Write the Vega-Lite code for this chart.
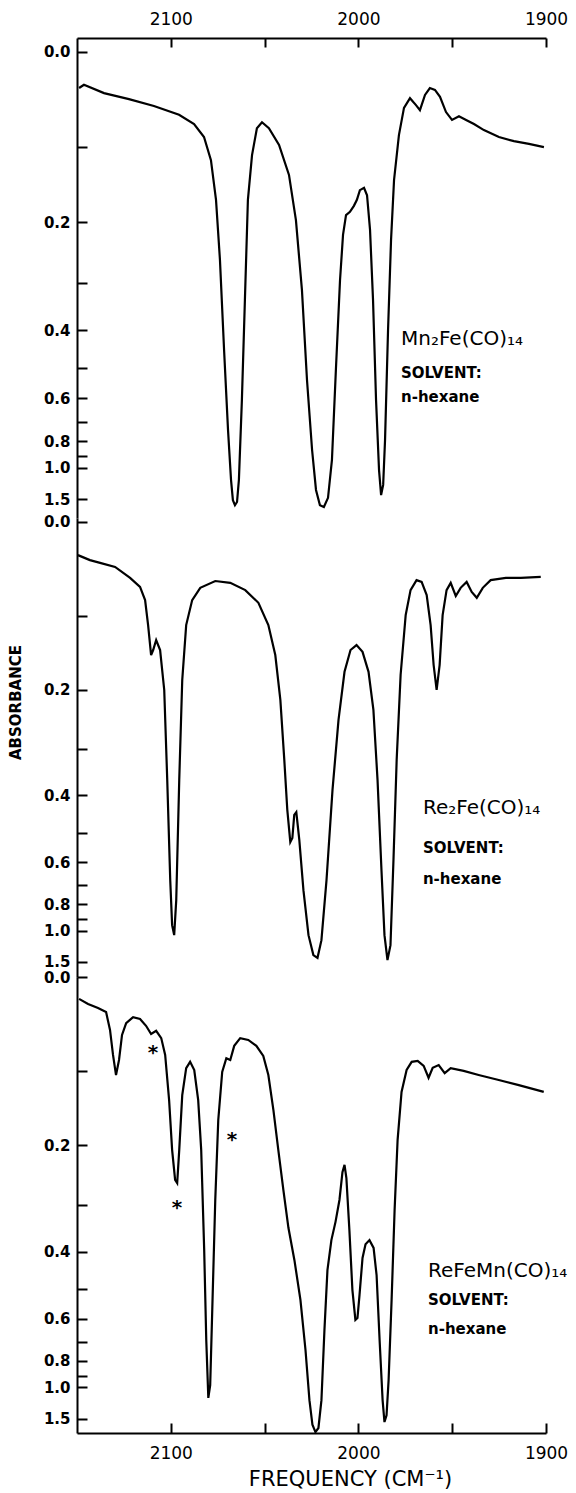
{
  "$schema": "https://vega.github.io/schema/vega-lite/v6.json",
  "background": "white",
  "padding": {"left": 8, "top": 10, "right": 5, "bottom": 5},
  "spacing": 0,
  "bounds": "flush",
  "config": {
    "view": {"stroke": null},
    "font": "DejaVu Sans",
    "axis": {"domainColor": "black", "domainWidth": 2, "tickColor": "black", "tickWidth": 2, "labelColor": "black", "titleColor": "black", "grid": false, "labelFont": "DejaVu Sans", "titleFont": "DejaVu Sans", "labelOverlap": false}
  },
  "datasets": {
    "spectra": [
      {"compound":"Mn2Fe(CO)14","nu":2148.9,"T":0.922},{"compound":"Mn2Fe(CO)14","nu":2146.3,"T":0.929},{"compound":"Mn2Fe(CO)14","nu":2135.6,"T":0.911},{"compound":"Mn2Fe(CO)14","nu":2122.3,"T":0.898},{"compound":"Mn2Fe(CO)14","nu":2109.0,"T":0.883},{"compound":"Mn2Fe(CO)14","nu":2095.6,"T":0.864},{"compound":"Mn2Fe(CO)14","nu":2087.6,"T":0.844},{"compound":"Mn2Fe(CO)14","nu":2082.3,"T":0.816},{"compound":"Mn2Fe(CO)14","nu":2078.6,"T":0.766},{"compound":"Mn2Fe(CO)14","nu":2075.9,"T":0.680},{"compound":"Mn2Fe(CO)14","nu":2073.8,"T":0.550},{"compound":"Mn2Fe(CO)14","nu":2071.6,"T":0.355},{"compound":"Mn2Fe(CO)14","nu":2069.5,"T":0.182},{"compound":"Mn2Fe(CO)14","nu":2067.9,"T":0.074},{"compound":"Mn2Fe(CO)14","nu":2066.9,"T":0.030},{"compound":"Mn2Fe(CO)14","nu":2065.8,"T":0.019},{"compound":"Mn2Fe(CO)14","nu":2064.7,"T":0.026},{"compound":"Mn2Fe(CO)14","nu":2063.7,"T":0.074},{"compound":"Mn2Fe(CO)14","nu":2062.1,"T":0.247},{"compound":"Mn2Fe(CO)14","nu":2060.5,"T":0.463},{"compound":"Mn2Fe(CO)14","nu":2058.9,"T":0.680},{"compound":"Mn2Fe(CO)14","nu":2056.7,"T":0.777},{"compound":"Mn2Fe(CO)14","nu":2054.1,"T":0.835},{"compound":"Mn2Fe(CO)14","nu":2051.4,"T":0.848},{"compound":"Mn2Fe(CO)14","nu":2047.7,"T":0.835},{"compound":"Mn2Fe(CO)14","nu":2042.3,"T":0.799},{"compound":"Mn2Fe(CO)14","nu":2037.0,"T":0.734},{"compound":"Mn2Fe(CO)14","nu":2033.3,"T":0.636},{"compound":"Mn2Fe(CO)14","nu":2030.1,"T":0.485},{"compound":"Mn2Fe(CO)14","nu":2027.4,"T":0.290},{"compound":"Mn2Fe(CO)14","nu":2024.7,"T":0.139},{"compound":"Mn2Fe(CO)14","nu":2022.6,"T":0.052},{"compound":"Mn2Fe(CO)14","nu":2020.5,"T":0.019},{"compound":"Mn2Fe(CO)14","nu":2018.4,"T":0.015},{"compound":"Mn2Fe(CO)14","nu":2016.2,"T":0.035},{"compound":"Mn2Fe(CO)14","nu":2014.1,"T":0.117},{"compound":"Mn2Fe(CO)14","nu":2012.0,"T":0.312},{"compound":"Mn2Fe(CO)14","nu":2009.8,"T":0.506},{"compound":"Mn2Fe(CO)14","nu":2008.2,"T":0.604},{"compound":"Mn2Fe(CO)14","nu":2006.6,"T":0.647},{"compound":"Mn2Fe(CO)14","nu":2004.5,"T":0.654},{"compound":"Mn2Fe(CO)14","nu":2002.4,"T":0.667},{"compound":"Mn2Fe(CO)14","nu":2000.8,"T":0.680},{"compound":"Mn2Fe(CO)14","nu":1999.2,"T":0.701},{"compound":"Mn2Fe(CO)14","nu":1997.0,"T":0.706},{"compound":"Mn2Fe(CO)14","nu":1995.4,"T":0.690},{"compound":"Mn2Fe(CO)14","nu":1993.8,"T":0.615},{"compound":"Mn2Fe(CO)14","nu":1992.2,"T":0.463},{"compound":"Mn2Fe(CO)14","nu":1990.6,"T":0.247},{"compound":"Mn2Fe(CO)14","nu":1989.0,"T":0.095},{"compound":"Mn2Fe(CO)14","nu":1987.9,"T":0.041},{"compound":"Mn2Fe(CO)14","nu":1986.8,"T":0.063},{"compound":"Mn2Fe(CO)14","nu":1985.8,"T":0.160},{"compound":"Mn2Fe(CO)14","nu":1984.2,"T":0.398},{"compound":"Mn2Fe(CO)14","nu":1982.6,"T":0.593},{"compound":"Mn2Fe(CO)14","nu":1981.0,"T":0.723},{"compound":"Mn2Fe(CO)14","nu":1978.4,"T":0.820},{"compound":"Mn2Fe(CO)14","nu":1975.7,"T":0.879},{"compound":"Mn2Fe(CO)14","nu":1972.5,"T":0.900},{"compound":"Mn2Fe(CO)14","nu":1969.3,"T":0.885},{"compound":"Mn2Fe(CO)14","nu":1967.2,"T":0.874},{"compound":"Mn2Fe(CO)14","nu":1964.5,"T":0.907},{"compound":"Mn2Fe(CO)14","nu":1961.9,"T":0.922},{"compound":"Mn2Fe(CO)14","nu":1959.2,"T":0.918},{"compound":"Mn2Fe(CO)14","nu":1956.5,"T":0.903},{"compound":"Mn2Fe(CO)14","nu":1953.3,"T":0.870},{"compound":"Mn2Fe(CO)14","nu":1950.1,"T":0.853},{"compound":"Mn2Fe(CO)14","nu":1946.4,"T":0.861},{"compound":"Mn2Fe(CO)14","nu":1942.6,"T":0.853},{"compound":"Mn2Fe(CO)14","nu":1938.4,"T":0.844},{"compound":"Mn2Fe(CO)14","nu":1933.1,"T":0.831},{"compound":"Mn2Fe(CO)14","nu":1925.1,"T":0.816},{"compound":"Mn2Fe(CO)14","nu":1917.1,"T":0.807},{"compound":"Mn2Fe(CO)14","nu":1909.1,"T":0.801},{"compound":"Mn2Fe(CO)14","nu":1901.1,"T":0.794},
      {"compound":"Re2Fe(CO)14","nu":2149.5,"T":0.927},{"compound":"Re2Fe(CO)14","nu":2143.1,"T":0.916},{"compound":"Re2Fe(CO)14","nu":2137.7,"T":0.910},{"compound":"Re2Fe(CO)14","nu":2129.7,"T":0.901},{"compound":"Re2Fe(CO)14","nu":2121.7,"T":0.877},{"compound":"Re2Fe(CO)14","nu":2116.4,"T":0.857},{"compound":"Re2Fe(CO)14","nu":2113.7,"T":0.828},{"compound":"Re2Fe(CO)14","nu":2112.1,"T":0.773},{"compound":"Re2Fe(CO)14","nu":2110.5,"T":0.707},{"compound":"Re2Fe(CO)14","nu":2109.4,"T":0.718},{"compound":"Re2Fe(CO)14","nu":2107.8,"T":0.740},{"compound":"Re2Fe(CO)14","nu":2105.7,"T":0.718},{"compound":"Re2Fe(CO)14","nu":2103.5,"T":0.630},{"compound":"Re2Fe(CO)14","nu":2101.9,"T":0.432},{"compound":"Re2Fe(CO)14","nu":2100.3,"T":0.211},{"compound":"Re2Fe(CO)14","nu":2099.3,"T":0.112},{"compound":"Re2Fe(CO)14","nu":2098.2,"T":0.090},{"compound":"Re2Fe(CO)14","nu":2097.1,"T":0.167},{"compound":"Re2Fe(CO)14","nu":2095.5,"T":0.432},{"compound":"Re2Fe(CO)14","nu":2093.9,"T":0.652},{"compound":"Re2Fe(CO)14","nu":2091.8,"T":0.773},{"compound":"Re2Fe(CO)14","nu":2088.6,"T":0.828},{"compound":"Re2Fe(CO)14","nu":2084.3,"T":0.855},{"compound":"Re2Fe(CO)14","nu":2076.3,"T":0.870},{"compound":"Re2Fe(CO)14","nu":2068.3,"T":0.866},{"compound":"Re2Fe(CO)14","nu":2060.3,"T":0.850},{"compound":"Re2Fe(CO)14","nu":2053.3,"T":0.822},{"compound":"Re2Fe(CO)14","nu":2048.0,"T":0.773},{"compound":"Re2Fe(CO)14","nu":2044.3,"T":0.707},{"compound":"Re2Fe(CO)14","nu":2041.6,"T":0.608},{"compound":"Re2Fe(CO)14","nu":2039.5,"T":0.476},{"compound":"Re2Fe(CO)14","nu":2037.9,"T":0.366},{"compound":"Re2Fe(CO)14","nu":2036.3,"T":0.295},{"compound":"Re2Fe(CO)14","nu":2035.2,"T":0.304},{"compound":"Re2Fe(CO)14","nu":2034.2,"T":0.355},{"compound":"Re2Fe(CO)14","nu":2033.1,"T":0.361},{"compound":"Re2Fe(CO)14","nu":2031.5,"T":0.300},{"compound":"Re2Fe(CO)14","nu":2029.3,"T":0.189},{"compound":"Re2Fe(CO)14","nu":2026.6,"T":0.090},{"compound":"Re2Fe(CO)14","nu":2024.0,"T":0.046},{"compound":"Re2Fe(CO)14","nu":2021.8,"T":0.040},{"compound":"Re2Fe(CO)14","nu":2019.7,"T":0.079},{"compound":"Re2Fe(CO)14","nu":2017.0,"T":0.211},{"compound":"Re2Fe(CO)14","nu":2013.8,"T":0.410},{"compound":"Re2Fe(CO)14","nu":2010.6,"T":0.564},{"compound":"Re2Fe(CO)14","nu":2007.4,"T":0.670},{"compound":"Re2Fe(CO)14","nu":2004.2,"T":0.718},{"compound":"Re2Fe(CO)14","nu":2001.0,"T":0.729},{"compound":"Re2Fe(CO)14","nu":1997.8,"T":0.714},{"compound":"Re2Fe(CO)14","nu":1994.6,"T":0.670},{"compound":"Re2Fe(CO)14","nu":1992.0,"T":0.586},{"compound":"Re2Fe(CO)14","nu":1989.8,"T":0.432},{"compound":"Re2Fe(CO)14","nu":1987.7,"T":0.233},{"compound":"Re2Fe(CO)14","nu":1986.1,"T":0.090},{"compound":"Re2Fe(CO)14","nu":1984.5,"T":0.035},{"compound":"Re2Fe(CO)14","nu":1982.9,"T":0.068},{"compound":"Re2Fe(CO)14","nu":1981.3,"T":0.256},{"compound":"Re2Fe(CO)14","nu":1979.6,"T":0.476},{"compound":"Re2Fe(CO)14","nu":1977.5,"T":0.663},{"compound":"Re2Fe(CO)14","nu":1974.8,"T":0.795},{"compound":"Re2Fe(CO)14","nu":1972.2,"T":0.850},{"compound":"Re2Fe(CO)14","nu":1969.0,"T":0.872},{"compound":"Re2Fe(CO)14","nu":1966.3,"T":0.868},{"compound":"Re2Fe(CO)14","nu":1963.6,"T":0.839},{"compound":"Re2Fe(CO)14","nu":1961.5,"T":0.773},{"compound":"Re2Fe(CO)14","nu":1959.9,"T":0.685},{"compound":"Re2Fe(CO)14","nu":1958.3,"T":0.630},{"compound":"Re2Fe(CO)14","nu":1956.7,"T":0.685},{"compound":"Re2Fe(CO)14","nu":1955.1,"T":0.795},{"compound":"Re2Fe(CO)14","nu":1953.0,"T":0.850},{"compound":"Re2Fe(CO)14","nu":1950.8,"T":0.866},{"compound":"Re2Fe(CO)14","nu":1948.1,"T":0.837},{"compound":"Re2Fe(CO)14","nu":1945.5,"T":0.855},{"compound":"Re2Fe(CO)14","nu":1942.3,"T":0.868},{"compound":"Re2Fe(CO)14","nu":1939.6,"T":0.846},{"compound":"Re2Fe(CO)14","nu":1936.9,"T":0.833},{"compound":"Re2Fe(CO)14","nu":1933.7,"T":0.855},{"compound":"Re2Fe(CO)14","nu":1929.5,"T":0.872},{"compound":"Re2Fe(CO)14","nu":1921.4,"T":0.877},{"compound":"Re2Fe(CO)14","nu":1913.4,"T":0.877},{"compound":"Re2Fe(CO)14","nu":1902.8,"T":0.879},
      {"compound":"ReFeMn(CO)14","nu":2148.9,"T":0.952},{"compound":"ReFeMn(CO)14","nu":2144.1,"T":0.941},{"compound":"ReFeMn(CO)14","nu":2138.8,"T":0.932},{"compound":"ReFeMn(CO)14","nu":2134.5,"T":0.923},{"compound":"ReFeMn(CO)14","nu":2132.4,"T":0.884},{"compound":"ReFeMn(CO)14","nu":2130.8,"T":0.829},{"compound":"ReFeMn(CO)14","nu":2129.2,"T":0.785},{"compound":"ReFeMn(CO)14","nu":2127.6,"T":0.818},{"compound":"ReFeMn(CO)14","nu":2126.0,"T":0.873},{"compound":"ReFeMn(CO)14","nu":2123.8,"T":0.899},{"compound":"ReFeMn(CO)14","nu":2120.1,"T":0.912},{"compound":"ReFeMn(CO)14","nu":2116.4,"T":0.908},{"compound":"ReFeMn(CO)14","nu":2113.2,"T":0.893},{"compound":"ReFeMn(CO)14","nu":2110.5,"T":0.875},{"compound":"ReFeMn(CO)14","nu":2107.8,"T":0.882},{"compound":"ReFeMn(CO)14","nu":2105.1,"T":0.866},{"compound":"ReFeMn(CO)14","nu":2103.0,"T":0.829},{"compound":"ReFeMn(CO)14","nu":2100.9,"T":0.730},{"compound":"ReFeMn(CO)14","nu":2099.3,"T":0.621},{"compound":"ReFeMn(CO)14","nu":2097.7,"T":0.555},{"compound":"ReFeMn(CO)14","nu":2096.6,"T":0.548},{"compound":"ReFeMn(CO)14","nu":2095.5,"T":0.621},{"compound":"ReFeMn(CO)14","nu":2093.9,"T":0.741},{"compound":"ReFeMn(CO)14","nu":2091.8,"T":0.800},{"compound":"ReFeMn(CO)14","nu":2089.7,"T":0.814},{"compound":"ReFeMn(CO)14","nu":2087.5,"T":0.796},{"compound":"ReFeMn(CO)14","nu":2085.4,"T":0.730},{"compound":"ReFeMn(CO)14","nu":2083.8,"T":0.621},{"compound":"ReFeMn(CO)14","nu":2082.2,"T":0.401},{"compound":"ReFeMn(CO)14","nu":2081.1,"T":0.204},{"compound":"ReFeMn(CO)14","nu":2080.0,"T":0.077},{"compound":"ReFeMn(CO)14","nu":2079.0,"T":0.105},{"compound":"ReFeMn(CO)14","nu":2077.9,"T":0.270},{"compound":"ReFeMn(CO)14","nu":2076.3,"T":0.511},{"compound":"ReFeMn(CO)14","nu":2074.7,"T":0.686},{"compound":"ReFeMn(CO)14","nu":2072.6,"T":0.792},{"compound":"ReFeMn(CO)14","nu":2070.4,"T":0.822},{"compound":"ReFeMn(CO)14","nu":2068.3,"T":0.818},{"compound":"ReFeMn(CO)14","nu":2066.2,"T":0.849},{"compound":"ReFeMn(CO)14","nu":2063.0,"T":0.866},{"compound":"ReFeMn(CO)14","nu":2058.7,"T":0.862},{"compound":"ReFeMn(CO)14","nu":2054.4,"T":0.849},{"compound":"ReFeMn(CO)14","nu":2050.7,"T":0.827},{"compound":"ReFeMn(CO)14","nu":2048.0,"T":0.785},{"compound":"ReFeMn(CO)14","nu":2045.3,"T":0.708},{"compound":"ReFeMn(CO)14","nu":2042.7,"T":0.621},{"compound":"ReFeMn(CO)14","nu":2040.0,"T":0.533},{"compound":"ReFeMn(CO)14","nu":2037.3,"T":0.450},{"compound":"ReFeMn(CO)14","nu":2034.1,"T":0.379},{"compound":"ReFeMn(CO)14","nu":2030.9,"T":0.292},{"compound":"ReFeMn(CO)14","nu":2028.2,"T":0.182},{"compound":"ReFeMn(CO)14","nu":2026.1,"T":0.072},{"compound":"ReFeMn(CO)14","nu":2024.5,"T":0.018},{"compound":"ReFeMn(CO)14","nu":2022.9,"T":0.002},{"compound":"ReFeMn(CO)14","nu":2021.3,"T":0.011},{"compound":"ReFeMn(CO)14","nu":2019.7,"T":0.072},{"compound":"ReFeMn(CO)14","nu":2018.1,"T":0.226},{"compound":"ReFeMn(CO)14","nu":2016.5,"T":0.357},{"compound":"ReFeMn(CO)14","nu":2014.4,"T":0.423},{"compound":"ReFeMn(CO)14","nu":2012.2,"T":0.463},{"compound":"ReFeMn(CO)14","nu":2010.1,"T":0.511},{"compound":"ReFeMn(CO)14","nu":2008.5,"T":0.572},{"compound":"ReFeMn(CO)14","nu":2007.4,"T":0.588},{"compound":"ReFeMn(CO)14","nu":2006.4,"T":0.559},{"compound":"ReFeMn(CO)14","nu":2004.8,"T":0.445},{"compound":"ReFeMn(CO)14","nu":2003.2,"T":0.314},{"compound":"ReFeMn(CO)14","nu":2001.6,"T":0.248},{"compound":"ReFeMn(CO)14","nu":2000.5,"T":0.252},{"compound":"ReFeMn(CO)14","nu":1999.4,"T":0.303},{"compound":"ReFeMn(CO)14","nu":1997.8,"T":0.384},{"compound":"ReFeMn(CO)14","nu":1996.2,"T":0.414},{"compound":"ReFeMn(CO)14","nu":1994.1,"T":0.423},{"compound":"ReFeMn(CO)14","nu":1991.9,"T":0.406},{"compound":"ReFeMn(CO)14","nu":1990.3,"T":0.346},{"compound":"ReFeMn(CO)14","nu":1988.7,"T":0.204},{"compound":"ReFeMn(CO)14","nu":1987.1,"T":0.072},{"compound":"ReFeMn(CO)14","nu":1986.1,"T":0.024},{"compound":"ReFeMn(CO)14","nu":1985.0,"T":0.039},{"compound":"ReFeMn(CO)14","nu":1983.9,"T":0.116},{"compound":"ReFeMn(CO)14","nu":1982.3,"T":0.292},{"compound":"ReFeMn(CO)14","nu":1980.7,"T":0.489},{"compound":"ReFeMn(CO)14","nu":1979.1,"T":0.643},{"compound":"ReFeMn(CO)14","nu":1977.0,"T":0.748},{"compound":"ReFeMn(CO)14","nu":1974.3,"T":0.796},{"compound":"ReFeMn(CO)14","nu":1971.6,"T":0.814},{"compound":"ReFeMn(CO)14","nu":1968.4,"T":0.816},{"compound":"ReFeMn(CO)14","nu":1965.2,"T":0.805},{"compound":"ReFeMn(CO)14","nu":1962.6,"T":0.779},{"compound":"ReFeMn(CO)14","nu":1960.4,"T":0.801},{"compound":"ReFeMn(CO)14","nu":1957.2,"T":0.807},{"compound":"ReFeMn(CO)14","nu":1954.0,"T":0.789},{"compound":"ReFeMn(CO)14","nu":1950.8,"T":0.800},{"compound":"ReFeMn(CO)14","nu":1943.9,"T":0.794},{"compound":"ReFeMn(CO)14","nu":1935.9,"T":0.785},{"compound":"ReFeMn(CO)14","nu":1925.2,"T":0.774},{"compound":"ReFeMn(CO)14","nu":1914.5,"T":0.763},{"compound":"ReFeMn(CO)14","nu":1901.2,"T":0.748}
    ],
    "notes": [
      {"compound":"Mn2Fe(CO)14","kind":"name","nu":1977.3,"T":0.366,"label":"Mn₂Fe(CO)₁₄"},
      {"compound":"Mn2Fe(CO)14","kind":"line","nu":1977.3,"T":0.294,"label":"SOLVENT:"},
      {"compound":"Mn2Fe(CO)14","kind":"line","nu":1977.3,"T":0.242,"label":"n-hexane"},
      {"compound":"Re2Fe(CO)14","kind":"name","nu":1965.6,"T":0.357,"label":"Re₂Fe(CO)₁₄"},
      {"compound":"Re2Fe(CO)14","kind":"line","nu":1965.6,"T":0.271,"label":"SOLVENT:"},
      {"compound":"Re2Fe(CO)14","kind":"line","nu":1965.6,"T":0.203,"label":"n-hexane"},
      {"compound":"ReFeMn(CO)14","kind":"name","nu":1962.9,"T":0.342,"label":"ReFeMn(CO)₁₄"},
      {"compound":"ReFeMn(CO)14","kind":"line","nu":1962.9,"T":0.281,"label":"SOLVENT:"},
      {"compound":"ReFeMn(CO)14","kind":"line","nu":1962.9,"T":0.217,"label":"n-hexane"},
      {"compound":"ReFeMn(CO)14","kind":"star","nu":2109.5,"T":0.833,"label":"*"},
      {"compound":"ReFeMn(CO)14","kind":"star","nu":2096.7,"T":0.493,"label":"*"},
      {"compound":"ReFeMn(CO)14","kind":"star","nu":2067.4,"T":0.643,"label":"*"}
    ]
  },
  "vconcat": [
    {
      "width": 469, "height": 480,
      "layer": [
        {
          "data": {"name": "spectra"},
          "transform": [{"filter": "datum.compound == 'Mn2Fe(CO)14'"}],
          "mark": {"type": "line", "color": "black", "strokeWidth": 2.2},
          "encoding": {
            "x": {"field": "nu", "type": "quantitative", "scale": {"domain": [1900, 2150], "reverse": true, "nice": false, "zero": false},
              "axis": {"orient": "top", "values": [2100, 2050, 2000, 1950, 1900], "labelExpr": "datum.value % 100 == 0 ? '' + datum.value : ''", "tickSize": -9, "labelPadding": 19, "labelFontSize": 17, "labelFlush": false, "title": null}},
            "y": {"field": "T", "type": "quantitative", "scale": {"domain": [-0.00866, 1.0303], "nice": false, "zero": false},
              "axis": {"orient": "left", "values": [1, 0.794, 0.631, 0.501, 0.398, 0.316, 0.251, 0.1995, 0.158, 0.1259, 0.1, 0.0316], "labelExpr": "indexof([1, 0.631, 0.398, 0.251, 0.158, 0.1, 0.0316], datum.value) >= 0 ? format(abs(log(datum.value)) / LN10, '.1f') : ''", "tickSize": -10, "labelPadding": 17, "labelFontSize": 15, "labelFontWeight": "bold", "title": null}}
          }
        },
        {
          "data": {"name": "notes"},
          "transform": [{"filter": "datum.compound == 'Mn2Fe(CO)14' && datum.kind == 'name'"}],
          "mark": {"type": "text", "align": "left", "baseline": "alphabetic", "fontSize": 20, "color": "black"},
          "encoding": {"x": {"field": "nu", "type": "quantitative"}, "y": {"field": "T", "type": "quantitative"}, "text": {"field": "label"}}
        },
        {
          "data": {"name": "notes"},
          "transform": [{"filter": "datum.compound == 'Mn2Fe(CO)14' && datum.kind == 'line'"}],
          "mark": {"type": "text", "align": "left", "baseline": "alphabetic", "fontSize": 15, "fontWeight": "bold", "color": "black"},
          "encoding": {"x": {"field": "nu", "type": "quantitative"}, "y": {"field": "T", "type": "quantitative"}, "text": {"field": "label"}}
        }
      ]
    },
    {
      "width": 469, "height": 459,
      "layer": [
        {
          "data": {"name": "spectra"},
          "transform": [{"filter": "datum.compound == 'Re2Fe(CO)14'"}],
          "mark": {"type": "line", "color": "black", "strokeWidth": 2.2},
          "encoding": {
            "x": {"field": "nu", "type": "quantitative", "scale": {"domain": [1900, 2150], "reverse": true, "nice": false, "zero": false}, "axis": null},
            "y": {"field": "T", "type": "quantitative", "scale": {"domain": [-0.0022, 1.0088], "nice": false, "zero": false},
              "axis": {"orient": "left", "values": [1, 0.794, 0.631, 0.501, 0.398, 0.316, 0.251, 0.1995, 0.158, 0.1259, 0.1, 0.0316], "labelExpr": "indexof([1, 0.631, 0.398, 0.251, 0.158, 0.1, 0.0316], datum.value) >= 0 ? format(abs(log(datum.value)) / LN10, '.1f') : ''", "tickSize": -10, "labelPadding": 17, "labelFontSize": 15, "labelFontWeight": "bold",
                "title": "ABSORBANCE", "titleFontSize": 15, "titleFontWeight": "bold", "titleAngle": 270, "titleX": -54, "titleY": 184, "titleBaseline": "bottom", "titleAlign": "center"}}
          }
        },
        {
          "data": {"name": "notes"},
          "transform": [{"filter": "datum.compound == 'Re2Fe(CO)14' && datum.kind == 'name'"}],
          "mark": {"type": "text", "align": "left", "baseline": "alphabetic", "fontSize": 20, "color": "black"},
          "encoding": {"x": {"field": "nu", "type": "quantitative"}, "y": {"field": "T", "type": "quantitative"}, "text": {"field": "label"}}
        },
        {
          "data": {"name": "notes"},
          "transform": [{"filter": "datum.compound == 'Re2Fe(CO)14' && datum.kind == 'line'"}],
          "mark": {"type": "text", "align": "left", "baseline": "alphabetic", "fontSize": 15, "fontWeight": "bold", "color": "black"},
          "encoding": {"x": {"field": "nu", "type": "quantitative"}, "y": {"field": "T", "type": "quantitative"}, "text": {"field": "label"}}
        }
      ]
    },
    {
      "width": 469, "height": 456,
      "layer": [
        {
          "data": {"name": "spectra"},
          "transform": [{"filter": "datum.compound == 'ReFeMn(CO)14'"}],
          "mark": {"type": "line", "color": "black", "strokeWidth": 2.2},
          "encoding": {
            "x": {"field": "nu", "type": "quantitative", "scale": {"domain": [1900, 2150], "reverse": true, "nice": false, "zero": false},
              "axis": {"orient": "bottom", "values": [2100, 2050, 2000, 1950, 1900], "labelExpr": "datum.value % 100 == 0 ? '' + datum.value : ''", "tickSize": -10, "labelPadding": 22, "labelFontSize": 17, "labelFlush": false,
                "title": "FREQUENCY (CM⁻¹)", "titleFontSize": 21, "titleFontWeight": "normal", "titleX": 273, "titleY": 52, "titleBaseline": "alphabetic", "titleAlign": "center"}},
            "y": {"field": "T", "type": "quantitative", "scale": {"domain": [0, 1], "nice": false, "zero": false},
              "axis": {"orient": "left", "values": [1, 0.794, 0.631, 0.501, 0.398, 0.316, 0.251, 0.1995, 0.158, 0.1259, 0.1, 0.0316], "labelExpr": "indexof([1, 0.631, 0.398, 0.251, 0.158, 0.1, 0.0316], datum.value) >= 0 ? format(abs(log(datum.value)) / LN10, '.1f') : ''", "tickSize": -10, "labelPadding": 17, "labelFontSize": 15, "labelFontWeight": "bold", "title": null}}
          }
        },
        {
          "data": {"name": "notes"},
          "transform": [{"filter": "datum.compound == 'ReFeMn(CO)14' && datum.kind == 'name'"}],
          "mark": {"type": "text", "align": "left", "baseline": "alphabetic", "fontSize": 20, "color": "black"},
          "encoding": {"x": {"field": "nu", "type": "quantitative"}, "y": {"field": "T", "type": "quantitative"}, "text": {"field": "label"}}
        },
        {
          "data": {"name": "notes"},
          "transform": [{"filter": "datum.compound == 'ReFeMn(CO)14' && datum.kind == 'line'"}],
          "mark": {"type": "text", "align": "left", "baseline": "alphabetic", "fontSize": 15, "fontWeight": "bold", "color": "black"},
          "encoding": {"x": {"field": "nu", "type": "quantitative"}, "y": {"field": "T", "type": "quantitative"}, "text": {"field": "label"}}
        },
        {
          "data": {"name": "notes"},
          "transform": [{"filter": "datum.compound == 'ReFeMn(CO)14' && datum.kind == 'star'"}],
          "mark": {"type": "text", "align": "center", "baseline": "middle", "fontSize": 20, "fontWeight": "bold", "color": "black"},
          "encoding": {"x": {"field": "nu", "type": "quantitative"}, "y": {"field": "T", "type": "quantitative"}, "text": {"field": "label"}}
        }
      ]
    }
  ]
}
